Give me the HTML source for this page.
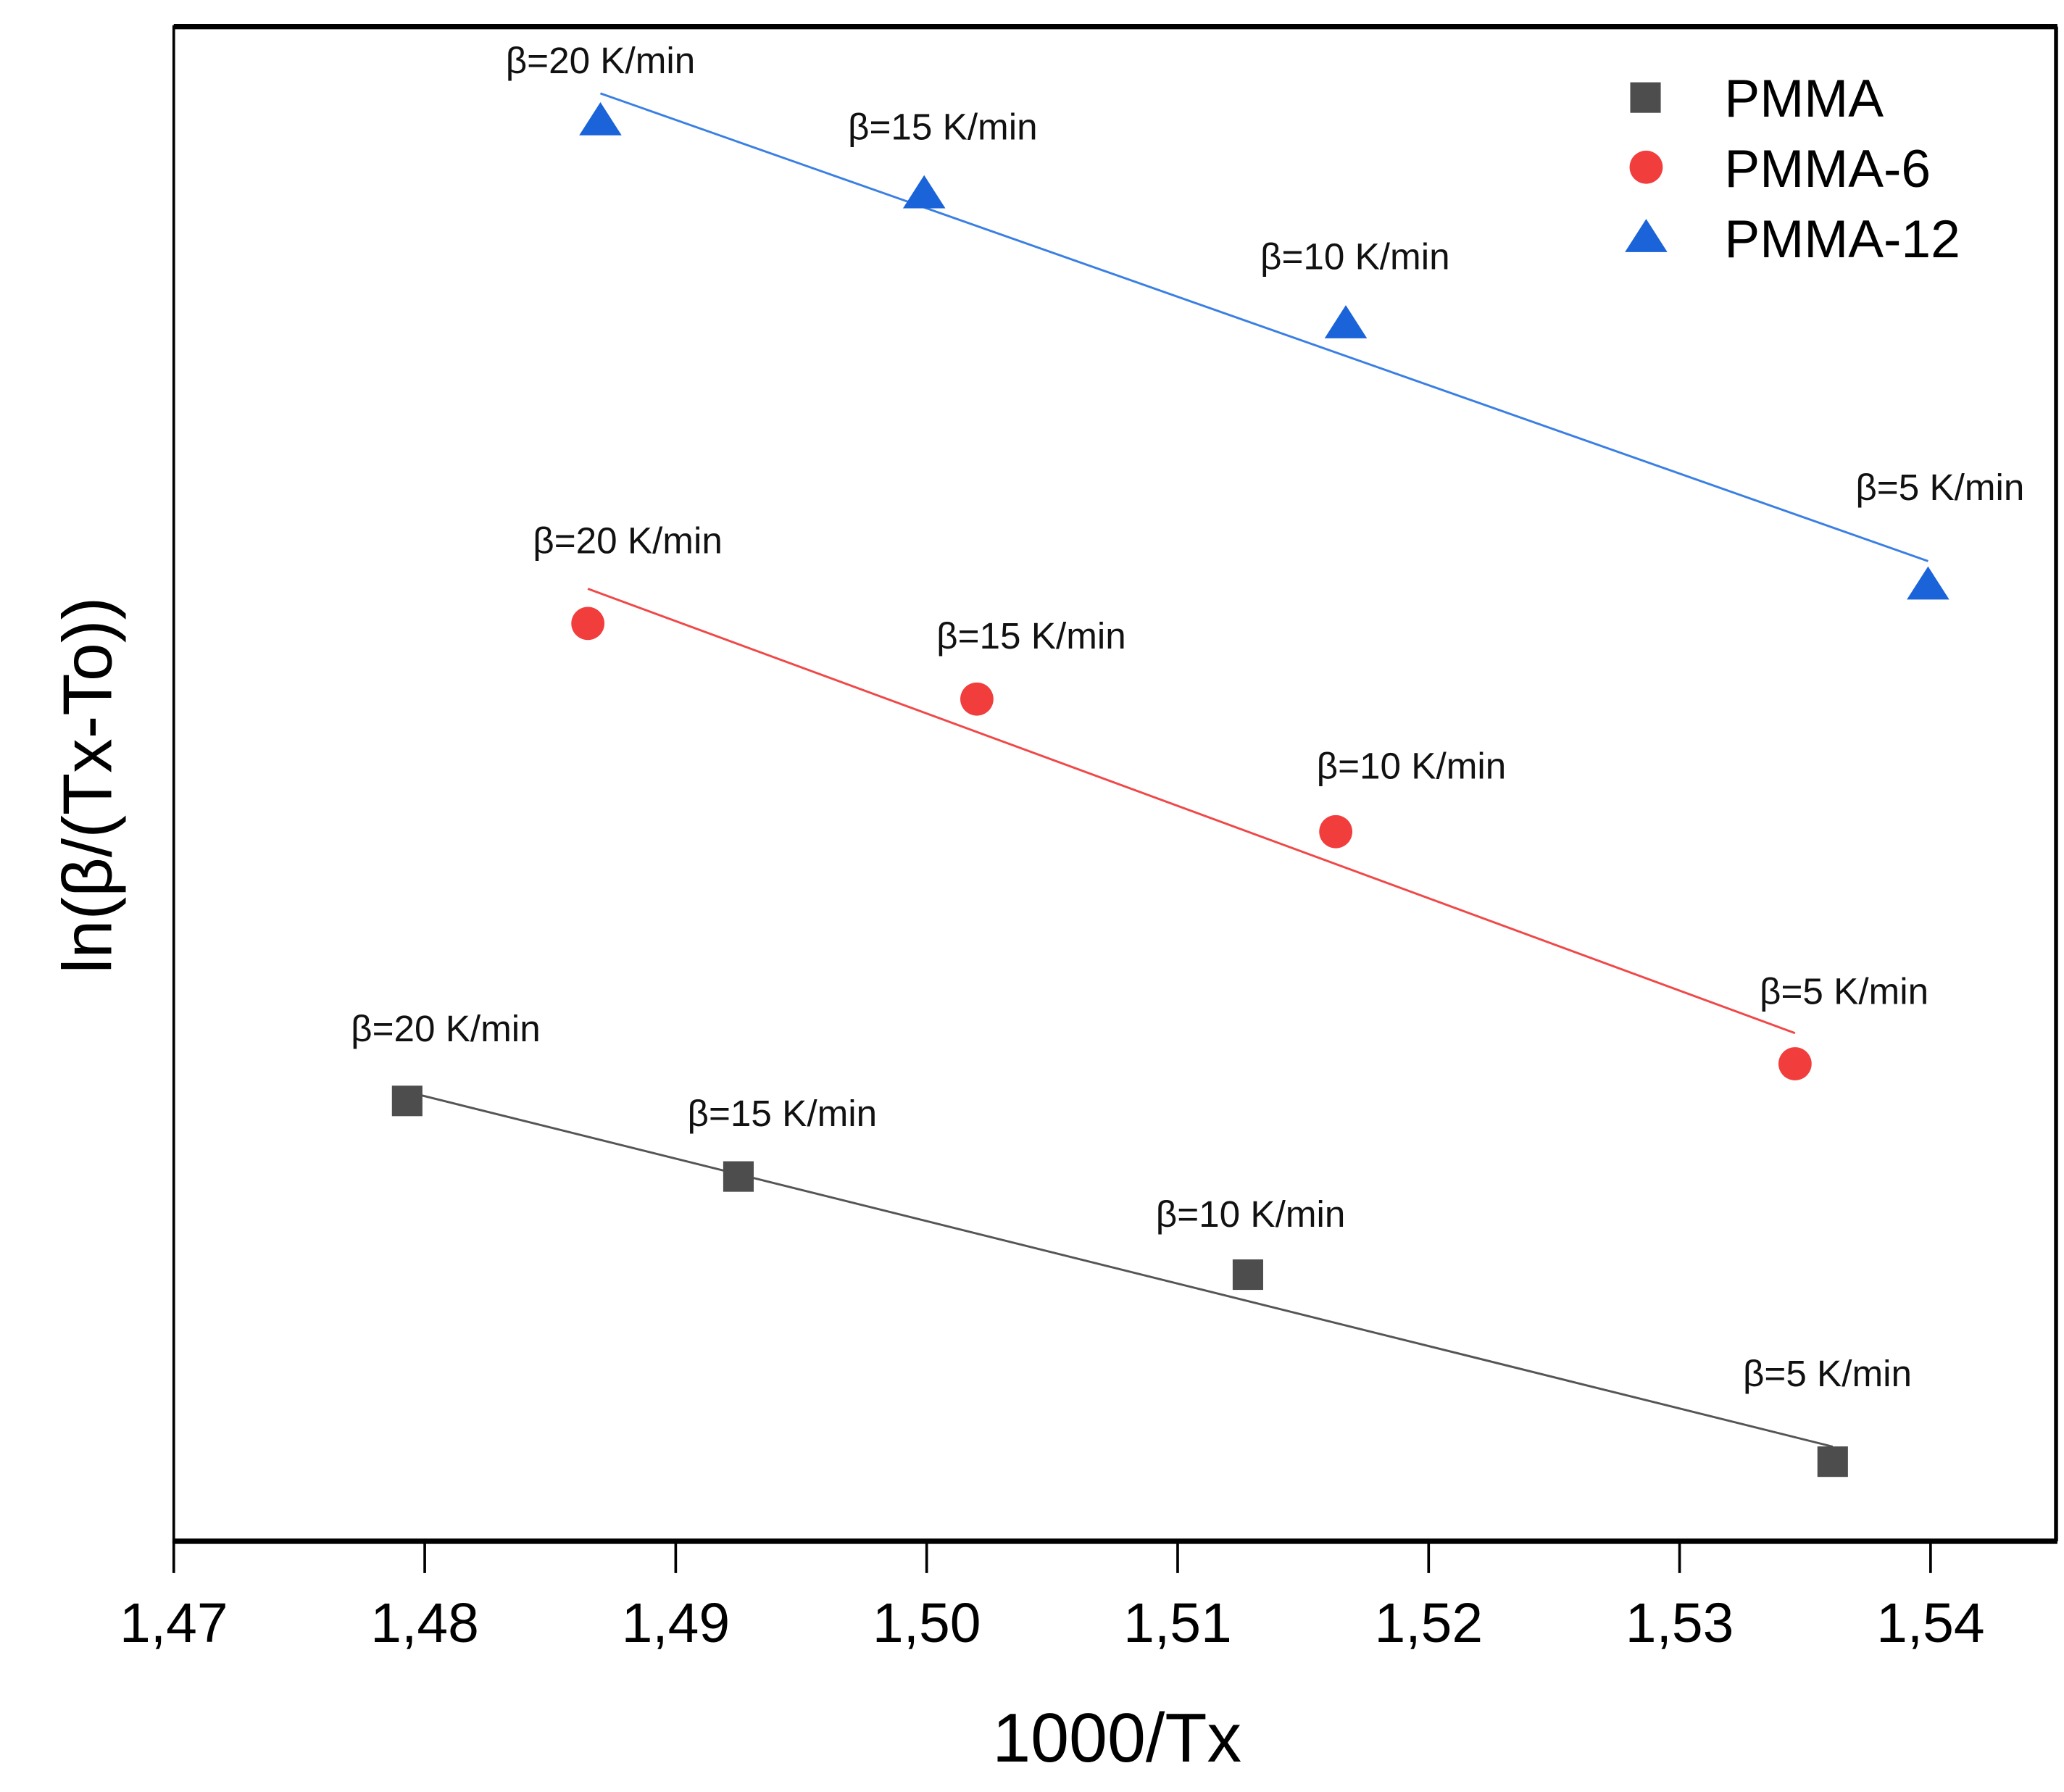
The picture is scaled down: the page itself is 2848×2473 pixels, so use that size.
<!DOCTYPE html>
<html><head><meta charset="utf-8"><style>html,body{margin:0;padding:0;background:#fff}svg{display:block}</style></head>
<body>
<svg id="chart" width="2848" height="2473" viewBox="0 0 1556 1351" xmlns="http://www.w3.org/2000/svg" font-family="'Liberation Sans', sans-serif">
<rect x="131" y="20" width="1419" height="1142" fill="#fff" stroke="#000" stroke-width="2"/>
<line x1="131" y1="20" x2="1551" y2="20" stroke="#000" stroke-width="4"/>
<line x1="1550" y1="20" x2="1550" y2="1162" stroke="#000" stroke-width="3"/>
<line x1="130" y1="1162" x2="1551" y2="1162" stroke="#000" stroke-width="4"/>
<g id="xticks"></g>
<g id="series"></g>
<text x="842" y="1328" font-size="52" text-anchor="middle" fill="#000">1000/Tx</text>
<text transform="translate(84,592) rotate(-90)" font-size="52" text-anchor="middle" fill="#000">ln(β/(Tx-To))</text>
<g>
 <rect x="1229" y="62" width="23" height="23" fill="#4d4d4d"/>
 <text x="1300" y="88" font-size="40">PMMA</text>
 <circle cx="1241" cy="126" r="12.5" fill="#f23d3d"/>
 <text x="1300" y="141" font-size="40">PMMA-6</text>
 <polygon points="1241,165 1257,190 1225,190" fill="#1b63d8"/>
 <text x="1300" y="194" font-size="40">PMMA-12</text>
</g>
</svg>
<script>
const xTicks = [1.47,1.48,1.49,1.50,1.51,1.52,1.53,1.54];
const xTickLabels = ["1,47","1,48","1,49","1,50","1,51","1,52","1,53","1,54"];
const rateLabels = ["β=20 K/min","β=15 K/min","β=10 K/min","β=5 K/min"];
const pmmaX = [1.4793,1.4925,1.5128,1.5361];
const pmmaY = [3.32,2.75,2.01,0.60];
const pmma6X = [1.4865,1.5020,1.5163,1.5346];
const pmma6Y = [6.92,6.35,5.35,3.60];
const pmma12X = [1.4870,1.4999,1.5167,1.5399];
const pmma12Y = [10.72,10.17,9.19,7.22];

const NS="http://www.w3.org/2000/svg";
const X0=131, XPER=18920, YB=1162, YPER=100;
function sx(v){return X0+(v-1.47)*XPER;}
function sy(v){return YB-v*YPER;}
function mk(tag,attrs,parent){const e=document.createElementNS(NS,tag);for(const k in attrs)e.setAttribute(k,attrs[k]);parent.appendChild(e);return e;}

const gx=document.getElementById('xticks');
xTicks.forEach((t,i)=>{
  const l=mk('line',{x1:sx(t),x2:sx(t),y1:1162,y2:1186,stroke:'#000','stroke-width':2},gx);
  
  
  const tx=mk('text',{x:sx(t),y:1238,'font-size':42,'text-anchor':'middle'},gx);
  tx.textContent=xTickLabels[i];
  
  
});

const gs=document.getElementById('series');
function fit(xs,ys){const n=xs.length;const mx=xs.reduce((a,b)=>a+b)/n,my=ys.reduce((a,b)=>a+b)/n;let num=0,den=0;for(let i=0;i<n;i++){num+=(xs[i]-mx)*(ys[i]-my);den+=(xs[i]-mx)**2;}const b=num/den;return [b,my-b*mx];}
function drawSeries(name,xs,ys,lineColor,color,shape,labOff){
  const [b,a]=fit(xs,ys);
  const x1=xs[0],x2=xs[xs.length-1];
  const ln=mk('line',{x1:sx(x1),y1:sy(a+b*x1),x2:sx(x2),y2:sy(a+b*x2),stroke:lineColor,'stroke-width':1.6},gs);
  
  
  xs.forEach((xv,i)=>{
    const px=sx(xv),py=sy(ys[i]);let m;
    if(shape==='square')m=mk('rect',{x:px-11.5,y:py-11.5,width:23,height:23,fill:color},gs);
    else if(shape==='circle')m=mk('circle',{cx:px,cy:py,r:12.5,fill:color},gs);
    else m=mk('polygon',{points:`${px},${py-13} ${px+16},${py+12} ${px-16},${py+12}`,fill:color},gs);
    
    
    const t=mk('text',{x:px+labOff[i][0],y:py+labOff[i][1],'font-size':28,'text-anchor':'middle',fill:'#111'},gs);
    t.textContent=rateLabels[i];
    
    
  });
}
drawSeries('pmma',pmmaX,pmmaY,'#555','#4d4d4d','square',[[29,-45],[33,-38],[2,-36],[-4,-57]]);
drawSeries('pmma-6',pmma6X,pmma6Y,'#f04848','#f23d3d','circle',[[30,-53],[41,-38],[57,-40],[37,-45]]);
drawSeries('pmma-12',pmma12X,pmma12Y,'#3a7fe3','#1b63d8','triangle',[[0,-35],[14,-40],[7,-40],[9,-63]]);
</script>
</body></html>
